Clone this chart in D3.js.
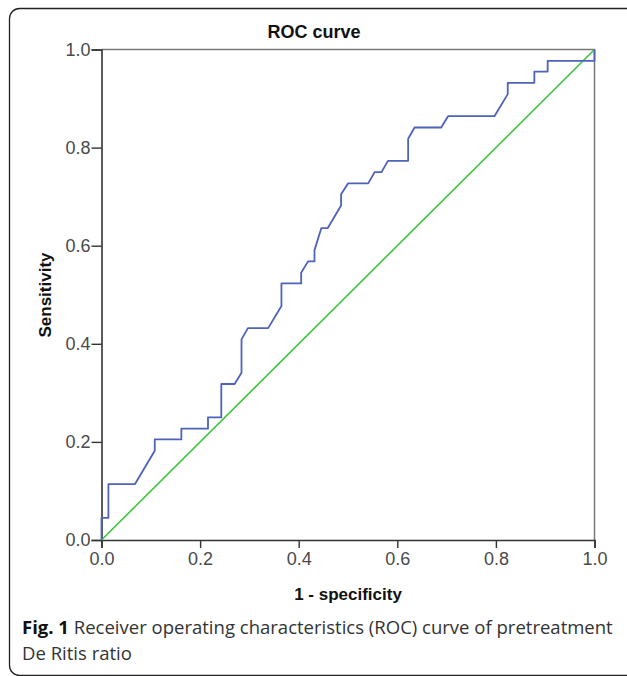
<!DOCTYPE html>
<html>
<head>
<meta charset="utf-8">
<script src="https://cdn.jsdelivr.net/npm/d3@7/dist/d3.min.js"></script>
<style>
  html, body { margin: 0; padding: 0; background: #fff; }
  svg { display: block; }
</style>
</head>
<body>
<div id="chart"></div>
<script>
// ROC curve points (1 - specificity, sensitivity)
const fpr = [0, 0, 0.014, 0.014, 0.068, 0.108, 0.108, 0.162, 0.162, 0.216, 0.216, 0.243, 0.243,
  0.270, 0.284, 0.284, 0.297, 0.338, 0.365, 0.365, 0.405, 0.405, 0.419, 0.432, 0.432, 0.446,
  0.459, 0.486, 0.486, 0.500, 0.541, 0.554, 0.568, 0.581, 0.622, 0.622, 0.635, 0.689, 0.703,
  0.797, 0.824, 0.824, 0.878, 0.878, 0.905, 0.905, 1.0, 1.0];
const tpr = [0, 0.045, 0.045, 0.114, 0.114, 0.182, 0.205, 0.205, 0.227, 0.227, 0.250, 0.250, 0.318,
  0.318, 0.341, 0.409, 0.432, 0.432, 0.477, 0.523, 0.523, 0.545, 0.568, 0.568, 0.591, 0.636,
  0.636, 0.682, 0.705, 0.727, 0.727, 0.750, 0.750, 0.773, 0.773, 0.818, 0.841, 0.841, 0.864,
  0.864, 0.909, 0.932, 0.932, 0.955, 0.955, 0.977, 0.977, 1.0];
const refLine = [0, 1];
const ticks = [0, 0.2, 0.4, 0.6, 0.8, 1.0];

const W = 627, H = 676;
const svg = d3.select('#chart').append('svg').attr('width', W).attr('height', H);

// outer rounded frame (cut off at right/bottom like the source)
svg.append('rect')
  .attr('x', 9.5).attr('y', 8.5)
  .attr('width', 630).attr('height', 667)
  .attr('rx', 10)
  .attr('fill', 'none').attr('stroke', '#222').attr('stroke-width', 1.3);

const x = d3.scaleLinear().domain([0, 1]).range([101.5, 594.5]);
const y = d3.scaleLinear().domain([0, 1]).range([540, 49.5]);

const tickFont = '"Liberation Sans", Arial, sans-serif';

// plot box top/right
svg.append('path')
  .attr('d', `M${x(0)},${y(1)}H${x(1)}V${y(0)}`)
  .attr('fill', 'none').attr('stroke', '#777').attr('stroke-width', 1.5);

// axes
const xAxis = svg.append('g').attr('transform', `translate(0,${y(0)})`)
  .call(d3.axisBottom(x).tickValues(ticks).tickFormat(d3.format('.1f')).tickSizeOuter(0).tickSize(8).tickPadding(4));
const yAxis = svg.append('g').attr('transform', `translate(${x(0)},0)`)
  .call(d3.axisLeft(y).tickValues(ticks).tickFormat(d3.format('.1f')).tickSizeOuter(0).tickSize(10).tickPadding(1));

[xAxis, yAxis].forEach(g => {
  g.select('.domain').attr('stroke', '#333').attr('stroke-width', 1.6);
  g.selectAll('.tick line').attr('stroke', '#333').attr('stroke-width', 1.4);
  g.selectAll('.tick text')
    .attr('fill', '#4a4a4a')
    .style('font-family', tickFont)
    .style('font-size', '18px');
});

// reference diagonal
svg.append('path')
  .datum(refLine)
  .attr('d', d3.line().x(d => x(d)).y(d => y(d)))
  .attr('fill', 'none').attr('stroke', '#3ec43e').attr('stroke-width', 1.6);

// ROC curve
svg.append('path')
  .datum(d3.range(fpr.length))
  .attr('d', d3.line().x(i => x(fpr[i])).y(i => y(tpr[i])))
  .attr('fill', 'none').attr('stroke', '#4d63bb').attr('stroke-width', 1.8)
  .attr('stroke-linejoin', 'round');

// titles
svg.append('text')
  .attr('x', 314).attr('y', 38)
  .attr('text-anchor', 'middle')
  .style('font-family', tickFont).style('font-weight', 'bold').style('font-size', '18px')
  .attr('fill', '#111')
  .text('ROC curve');

svg.append('text')
  .attr('x', 348).attr('y', 600)
  .attr('text-anchor', 'middle')
  .style('font-family', tickFont).style('font-weight', 'bold').style('font-size', '17px')
  .attr('fill', '#111')
  .text('1 - specificity');

svg.append('text')
  .attr('transform', 'translate(51,295) rotate(-90)')
  .attr('text-anchor', 'middle')
  .style('font-family', tickFont).style('font-weight', 'bold').style('font-size', '17px')
  .attr('fill', '#111')
  .text('Sensitivity');

// caption
const capFont = '"Open Sans", "Noto Sans", sans-serif';
const cap1 = svg.append('text')
  .attr('x', 22).attr('y', 634)
  .style('font-family', capFont).style('font-size', '17px')
  .attr('fill', '#333');
cap1.append('tspan').style('font-weight', 'bold').attr('fill', '#111').text('Fig. 1');
cap1.append('tspan').text(' Receiver operating characteristics (ROC) curve of pretreatment');

// fit first caption line to the width it has in the source
const w1 = cap1.node().getComputedTextLength();
const capSize = 17 * 591 / w1;
cap1.style('font-size', capSize + 'px');

svg.append('text')
  .attr('x', 22).attr('y', 660)
  .style('font-family', capFont).style('font-size', capSize + 'px')
  .attr('fill', '#333')
  .text('De Ritis ratio');
</script>
</body>
</html>
